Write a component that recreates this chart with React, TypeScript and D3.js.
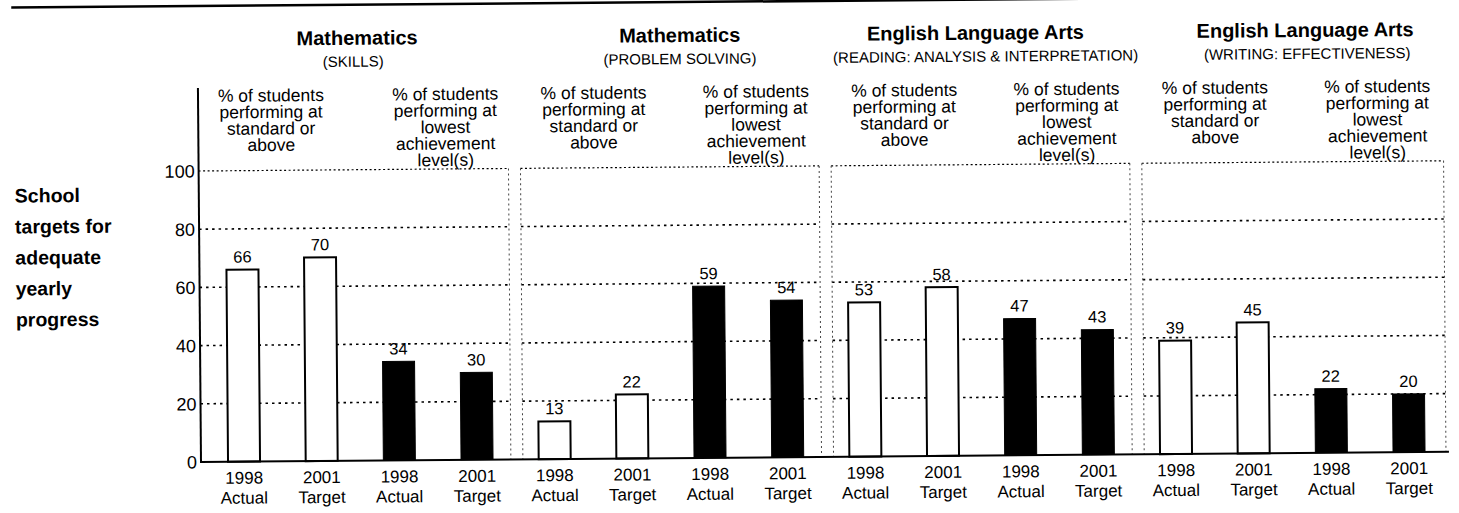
import React from 'react';
import * as d3 from 'd3';

// ---- data ----
const panelTitles = ['Mathematics', 'Mathematics', 'English Language Arts', 'English Language Arts'];
const panelSubtitles = ['(SKILLS)', '(PROBLEM SOLVING)', '(READING: ANALYSIS & INTERPRETATION)', '(WRITING: EFFECTIVENESS)'];
const groupHeaders = [
  ['% of students', 'performing at', 'standard or', 'above'],
  ['% of students', 'performing at', 'lowest', 'achievement', 'level(s)'],
];
const years = ['1998', '2001'];
const yearKinds = ['Actual', 'Target'];
const values = [66, 70, 34, 30, 13, 22, 59, 54, 53, 58, 47, 43, 39, 45, 22, 20];
const yTicks = [0, 20, 40, 60, 80, 100];
const sideTitle = ['School', 'targets for', 'adequate', 'yearly', 'progress'];

// ---- layout ----
const W = 1459, H = 513;
const AXIS_X = 201;
const FONT = '"Liberation Sans", Arial, Helvetica, sans-serif';
const titleOffsets = [0, 12, -3, 16];
const subOffsets = [-4, 12, 7, 18];

export default function App() {
  const x = d3.scaleBand<number>()
    .domain(d3.range(values.length))
    .range([205.2, 1447.9])
    .paddingInner(0.588)
    .paddingOuter(0.294);
  const bw = x.bandwidth();
  const step = x.step();
  const y = d3.scaleLinear().domain([0, 100]).range([462, 171]);

  const boundary = (k: number) => (x(4 * k) as number) + bw / 2 - step / 2;
  const panels = d3.range(4).map((k) => ({
    left: k === 0 ? AXIS_X : boundary(k) + 7,
    right: k === 3 ? 1446 : boundary(k + 1) - 5,
    center: ((x(4 * k) as number) + (x(4 * k + 3) as number) + bw) / 2,
  }));

  const headerBaselines = [102, 118.5, 135, 151.5, 168];

  return (
    <svg width={W} height={H} style={{ position: 'absolute', left: 0, top: 0, background: '#fff' }} fontFamily={FONT}>
      <rect x={0} y={0} width={W} height={H} fill="#fff" />
      <g transform={`rotate(-0.47 ${AXIS_X} 462)`}>
        {/* top rule */}
        <line x1={15} x2={1085} y1={6} y2={6} stroke="#000" strokeWidth={2.5} />

        {/* side title */}
        {sideTitle.map((t, i) => (
          <text key={t} x={17} y={201 + i * 31} fontSize={19.5} fontWeight="bold" fill="#000">{t}</text>
        ))}

        {/* panel titles */}
        {panels.map((p, k) => (
          <g key={'t' + k}>
            <text x={p.center + titleOffsets[k]} y={46} fontSize={20} fontWeight="bold" textAnchor="middle" fill="#000">{panelTitles[k]}</text>
            <text x={p.center + subOffsets[k]} y={68} fontSize={15} textAnchor="middle" fill="#000">{panelSubtitles[k]}</text>
          </g>
        ))}

        {/* group headers */}
        {panels.map((p, k) =>
          [0, 1].map((g) => {
            const i0 = 4 * k + 2 * g;
            const cx = ((x(i0) as number) + (x(i0 + 1) as number) + bw) / 2 + (g === 0 ? (k === 0 ? -9 : 3) : 10);
            return groupHeaders[g].map((line, li) => (
              <text key={`h${k}${g}${li}`} x={cx} y={headerBaselines[li]} fontSize={17.5} textAnchor="middle" fill="#000">{line}</text>
            ));
          })
        )}

        {/* panel boxes & gridlines */}
        {panels.map((p, k) => (
          <g key={'p' + k}>
            {yTicks.filter((t) => t > 0 && t < 100).map((t) => (
              <line key={t} x1={p.left} x2={p.right} y1={y(t)} y2={y(t)} stroke="#000" strokeWidth={1.6} strokeDasharray="2.5 4" />
            ))}
            <line x1={p.left} x2={p.right} y1={y(100)} y2={y(100)} stroke="#000" strokeWidth={1.2} strokeDasharray="2 2.5" />
            {k > 0 && <line x1={p.left} x2={p.left} y1={y(100)} y2={y(0)} stroke="#444" strokeWidth={1} strokeDasharray="2 3" />}
            <line x1={p.right} x2={p.right} y1={y(100)} y2={y(0)} stroke="#444" strokeWidth={1} strokeDasharray="2 3" />
          </g>
        ))}

        {/* bars */}
        {values.map((v, i) => {
          const g = Math.floor((i % 4) / 2);
          const bx = x(i) as number;
          const black = g === 1;
          return (
            <g key={'b' + i}>
              <rect
                x={bx}
                y={y(v)}
                width={bw}
                height={y(0) - y(v)}
                fill={black ? '#000' : '#fff'}
                stroke="#000"
                strokeWidth={black ? 1 : 2}
              />
              <text x={bx + bw / 2} y={y(v) - 7} fontSize={16.5} textAnchor="middle" fill="#000">{v}</text>
              <text x={bx + bw / 2} y={484} fontSize={17} textAnchor="middle" fill="#000">{years[i % 2]}</text>
              <text x={bx + bw / 2} y={504} fontSize={17} textAnchor="middle" fill="#000">{yearKinds[i % 2]}</text>
            </g>
          );
        })}

        {/* baseline */}
        <line x1={AXIS_X} x2={1449} y1={y(0)} y2={y(0)} stroke="#000" strokeWidth={2} />

        {/* y axis */}
        <line x1={AXIS_X} x2={AXIS_X} y1={88} y2={y(0) + 1} stroke="#000" strokeWidth={2} />
        {yTicks.map((t) => (
          <text key={'yt' + t} x={AXIS_X - 4} y={y(t) + 6.5} fontSize={18} textAnchor="end" fill="#000">{t}</text>
        ))}
      </g>
    </svg>
  );
}
